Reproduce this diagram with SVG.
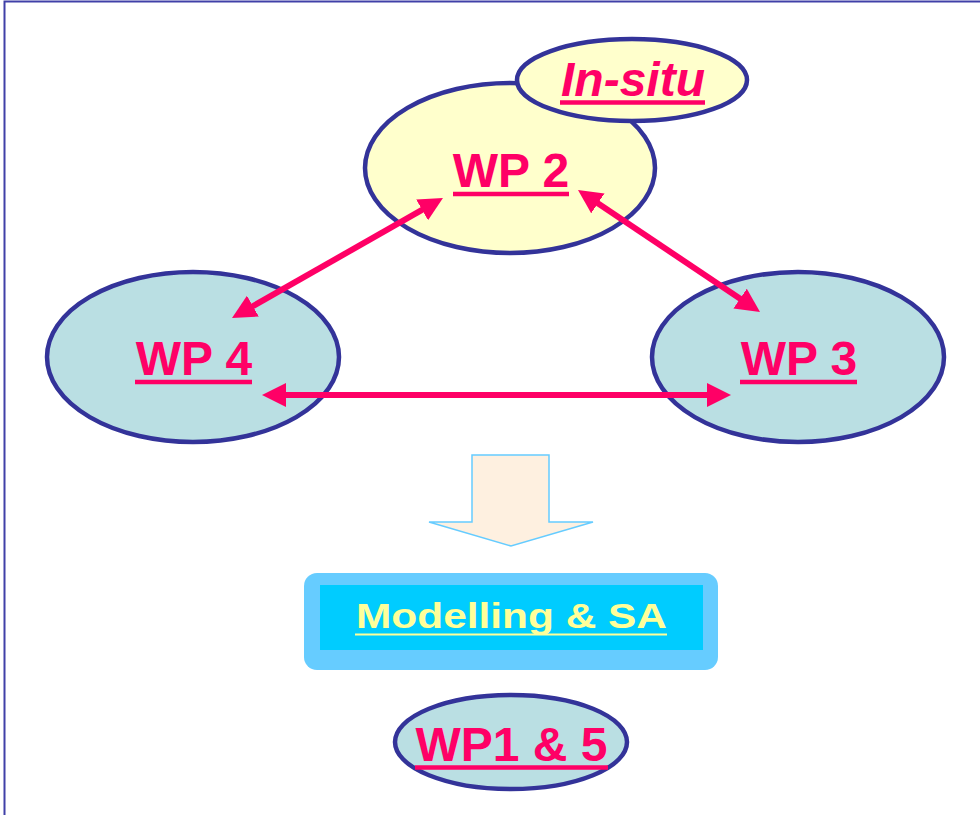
<svg xmlns="http://www.w3.org/2000/svg" width="980" height="815" viewBox="0 0 980 815">
<style>
.ell{stroke:#333399;stroke-width:4.5}
.yel{fill:#FFFFCC}
.blu{fill:#BADFE3}
.lbl{font-family:"Liberation Sans",Arial,sans-serif;font-weight:bold;font-size:48px;fill:#FF0066;text-anchor:middle}
.ul{stroke:#FF0066;stroke-width:4.5}
.conn{stroke:#FF0066;stroke-width:6;fill:none;marker-start:url(#ah);marker-end:url(#ah)}
</style>
<defs>
<marker id="ah" markerUnits="userSpaceOnUse" markerWidth="24" markerHeight="24" refX="10" refY="12" orient="auto-start-reverse" viewBox="0 0 24 24">
<path d="M0,0 L24,12 L0,24 z" fill="#FF0066"/>
</marker>
</defs>
<rect width="980" height="815" fill="#FFFFFF"/>
<polyline points="4.5,815 4.5,1.5 980,1.5" fill="none" stroke="#4040A8" stroke-width="2"/>
<g id="wp2">
<ellipse class="ell yel" cx="510" cy="168" rx="145" ry="85"/>
<text class="lbl" x="511" y="187">WP 2</text>
<line class="ul" x1="453" y1="194" x2="569" y2="194"/>
</g>
<g id="insitu">
<ellipse class="ell yel" cx="632" cy="80" rx="115" ry="41"/>
<text class="lbl" x="633" y="96" font-style="italic">In-situ</text>
<line class="ul" x1="560" y1="102.5" x2="705" y2="102.5" stroke-width="5"/>
</g>
<g id="wp4">
<ellipse class="ell blu" cx="193" cy="357" rx="146" ry="85"/>
<text class="lbl" x="194" y="375">WP 4</text>
<line class="ul" x1="135" y1="382" x2="252" y2="382"/>
</g>
<g id="wp3">
<ellipse class="ell blu" cx="798" cy="357" rx="146" ry="85"/>
<text class="lbl" x="799" y="375">WP 3</text>
<line class="ul" x1="740" y1="382" x2="857" y2="382"/>
</g>
<g id="flow-arrow">
<polygon points="472,455 549,455 549,522 593,522 511,546 429,522 472,522" fill="#FEF0E0" stroke="#66CCFF" stroke-width="1.5"/>
</g>
<g id="modelling">
<rect x="304" y="573" width="414" height="97" rx="13" fill="#66CCFF"/>
<rect x="320" y="585" width="383" height="65" fill="#00CCFF"/>
<text x="356" y="627.5" font-family="Liberation Sans,Arial,sans-serif" font-weight="bold" font-size="35" fill="#FFFF99" textLength="311" lengthAdjust="spacingAndGlyphs">Modelling &amp; SA</text>
<line x1="355" y1="634.5" x2="667" y2="634.5" stroke="#FFFF99" stroke-width="2"/>
</g>
<g id="wp15">
<ellipse class="ell blu" cx="511" cy="742" rx="116" ry="47"/>
<text class="lbl" x="511.5" y="761">WP1 &amp; 5</text>
<line class="ul" x1="415" y1="767.5" x2="608" y2="767.5" stroke-width="5"/>
</g>
<g id="connectors">
<line class="conn" x1="430.8" y1="204.9" x2="244.2" y2="311.1"/>
<line class="conn" x1="589.6" y1="197.8" x2="748.4" y2="304.2"/>
<line class="conn" x1="276" y1="395" x2="717" y2="395"/>
</g>
</svg>
